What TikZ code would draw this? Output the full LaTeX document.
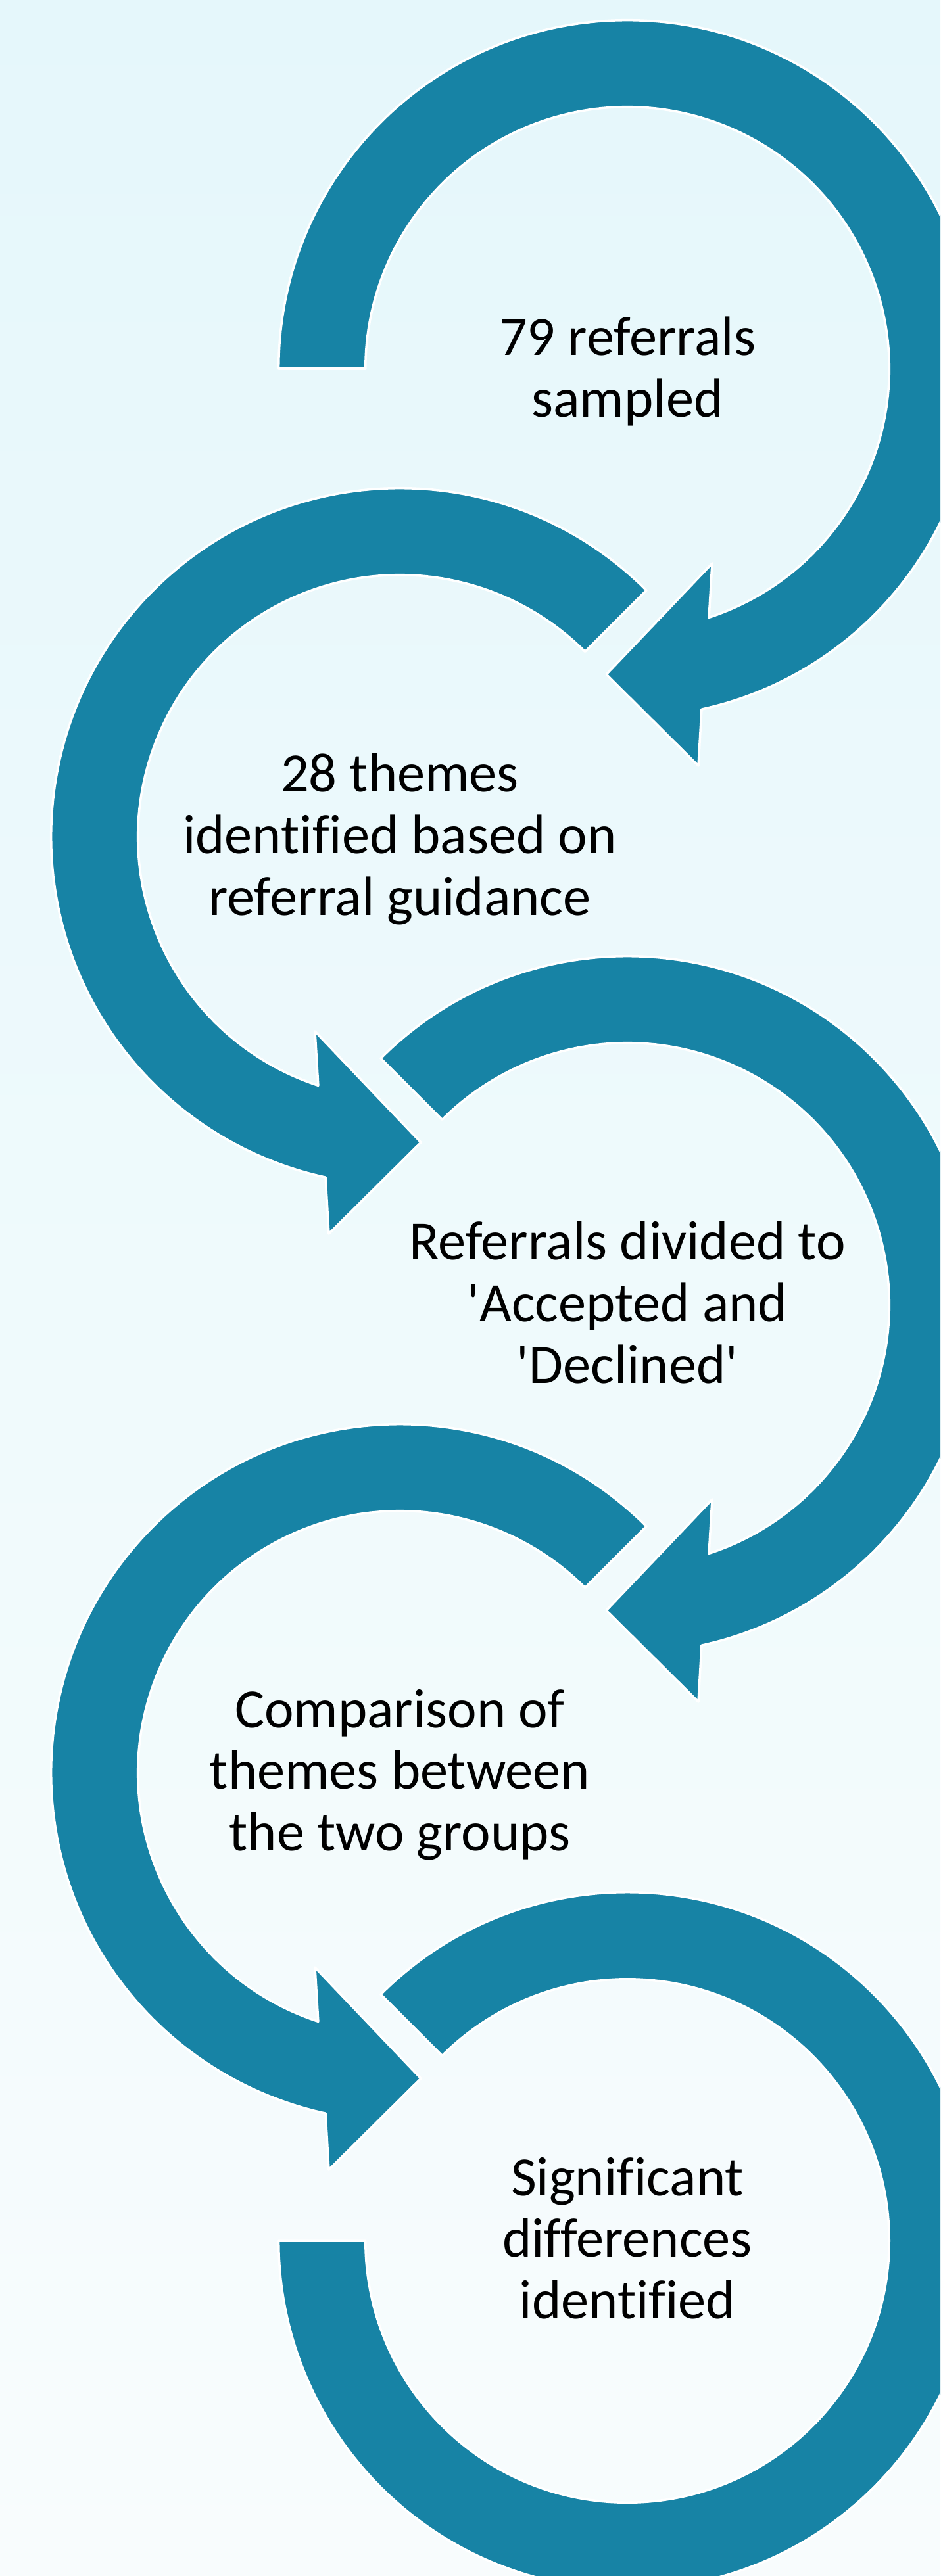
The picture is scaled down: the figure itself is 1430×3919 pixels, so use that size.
\documentclass[tikz,border=0pt]{standalone}
\usepackage{fontspec}
\setmainfont{Carlito}[Ligatures={TeXOff,CommonOff}]
\usetikzlibrary{calc}
\definecolor{arrowblue}{RGB}{23,131,165}
\definecolor{bgtop}{RGB}{229,247,251}
\definecolor{bgmid}{RGB}{239,250,252}
\definecolor{bgbot}{RGB}{248,252,253}
\tikzset{
  band/.style={fill=arrowblue, draw=white, line width=1pt, line join=round},
  steptext/.style={font=\fontsize{24}{26.7}\selectfont, align=center, text=black,
    inner sep=0pt, execute at begin node=\strut, execute at end node=\strut},
}
% clockwise arrow (odd steps): #1 centre, #2 start angle
\newcommand\cwarrow[2]{%
  \path[band] ($(#1)+(#2:5.3cm)$) arc[start angle=#2, end angle=-77.7, radius=5.3cm]
    -- ($(#1)+(108,-604)$) -- ($(#1)+(-32,-465)$) -- ($(#1)+(129,-296)$)
    -- ($(#1)+(-71.84:3.98cm)$) arc[start angle=-71.84, end angle=#2, radius=3.98cm] -- cycle;}
% counter-clockwise arrow (even steps): #1 centre
\newcommand\ccwarrow[1]{%
  \path[band] ($(#1)+(45:5.3cm)$) arc[start angle=45, end angle=257.7, radius=5.3cm]
    -- ($(#1)+(-108,-604)$) -- ($(#1)+(32,-465)$) -- ($(#1)+(-129,-296)$)
    -- ($(#1)+(251.84:3.98cm)$) arc[start angle=251.84, end angle=45, radius=3.98cm] -- cycle;}
\begin{document}
\begin{tikzpicture}[x=0.01cm, y=0.01cm]
  \useasboundingbox (0,0) rectangle (1430,-3919);
  \fill[top color=bgtop, bottom color=bgbot, middle color=bgmid] (0,0) rectangle (1430,-3919);
  \clip (0,0) rectangle (1430,-3919);
  \coordinate (c1) at (954,-561);
  \coordinate (c2) at (608,-1273);
  \coordinate (c3) at (954,-1985);
  \coordinate (c4) at (608,-2697);
  \coordinate (c5) at (954,-3409);
  \cwarrow{c1}{180}
  \ccwarrow{c2}
  \cwarrow{c3}{135}
  \ccwarrow{c4}
  \path[band] ($(c5)+(135:5.3cm)$) arc[start angle=135, end angle=-180, radius=5.3cm]
    -- ($(c5)+(180:3.98cm)$) arc[start angle=-180, end angle=135, radius=3.98cm] -- cycle;
  \node[steptext] (t1) at (954,-572) {79 referrals\\sampled};
  \node[steptext] (t2) at (608,-1283) {28 themes\\identified based on\\referral guidance};
  \node[steptext] (t3) at (954,-1995) {Referrals divided to\\'Accepted and\\'Declined'};
  \node[steptext] (t4) at (608,-2707) {Comparison of\\themes between\\the two groups};
  \node[steptext] (t5) at (954,-3419) {Significant\\differences\\identified};
\end{tikzpicture}
\end{document}
